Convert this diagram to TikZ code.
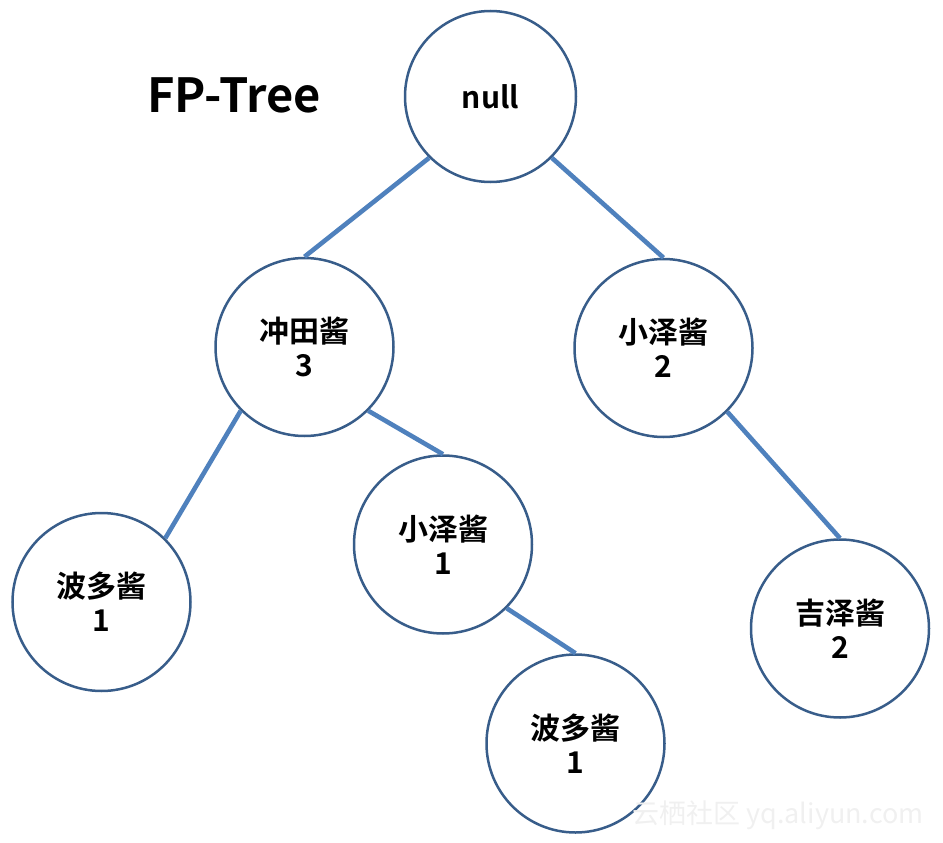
\documentclass[tikz,border=0pt]{standalone}
\usepackage{fontspec}
\setmainfont{Noto Sans CJK SC}[BoldFont={* Bold}]
\definecolor{edgeblue}{HTML}{4F81BD}
\definecolor{ringblue}{HTML}{385D8A}
\begin{document}
\begin{tikzpicture}[x=1pt,y=-1pt,
  tnode/.style={circle, draw=ringblue, line width=2.5pt, fill=white, minimum size=178pt, inner sep=0pt, align=center, font=\fontsize{30}{34}\selectfont\bfseries},
  tedge/.style={draw=edgeblue, line width=4.6pt}]
\useasboundingbox (0,0) rectangle (943,843);
\node[font=\fontsize{47}{50}\selectfont\bfseries] (title) at (234,95) {FP-Tree};
\node[tnode, minimum size=171pt] (root) at (490.5,96.5) {null};
\node[tnode] (c1) at (304.5,347) {冲田酱\\3};
\node[tnode] (c2) at (663.5,348) {小泽酱\\2};
\node[tnode] (d1) at (101.5,602) {波多酱\\1};
\node[tnode] (d2) at (443,544.5) {小泽酱\\1};
\node[tnode] (e1) at (575.5,743.5) {波多酱\\1};
\node[tnode] (d3) at (840,628.5) {吉泽酱\\2};
\draw[tedge] (root.-135) -- (c1.north);
\draw[tedge] (root.-45) -- (c2.north);
\draw[tedge] (c1.-135) -- (d1.45);
\draw[tedge] (c1.-45) -- (d2.north);
\draw[tedge] (d2.-45) -- (e1.north);
\draw[tedge] (c2.-45) -- (d3.north);
\node[text=gray!12, font=\fontsize{27}{30}\selectfont] (wm) at (778,815) {云栖社区 yq.aliyun.com};
\end{tikzpicture}
\end{document}
